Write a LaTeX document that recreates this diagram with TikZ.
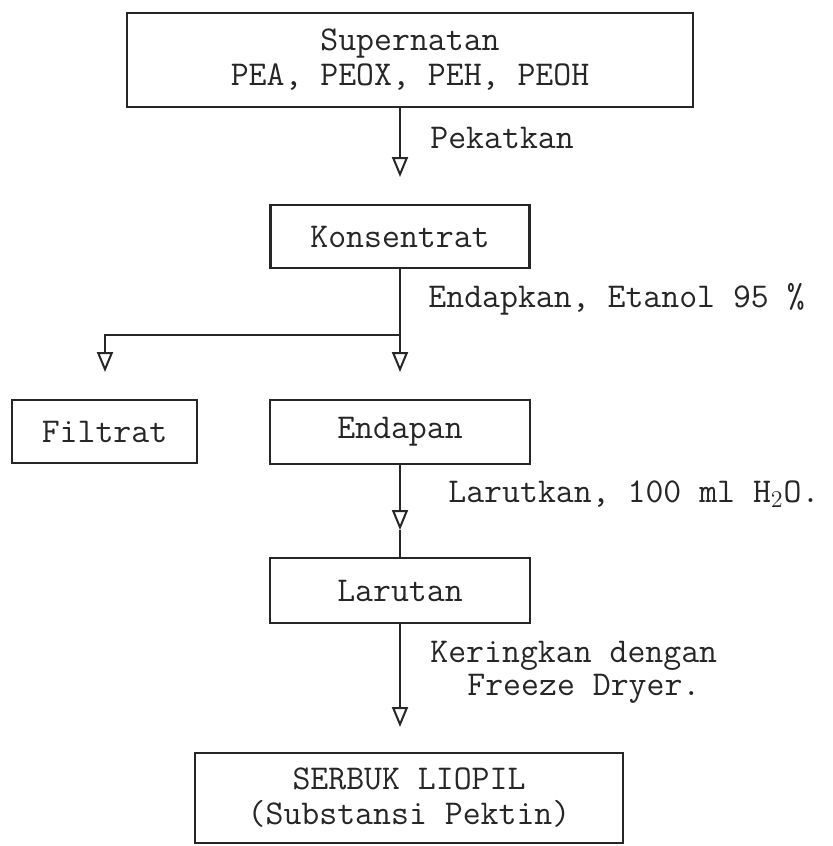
\documentclass[tikz,border=0pt]{standalone}
\usepackage{fontspec}
\usetikzlibrary{arrows.meta}
\colorlet{ink}{black!85}
\begin{document}
\begin{tikzpicture}[x=0.5pt,y=-0.5pt,
  box/.style={draw=ink, text=ink, line width=1.2pt, rectangle, inner sep=0pt, align=center,
    font=\ttfamily\fontsize{17.4}{17.5}\selectfont},
  lbl/.style={anchor=base west, inner sep=0pt, text=ink, font=\ttfamily\fontsize{17.4}{17}\selectfont},
  flow/.style={draw=ink, line width=1pt, -{Triangle[open,length=10pt,width=8pt,line width=1pt]}},
  plain/.style={draw=ink, line width=1pt}
]
\useasboundingbox (0,0) rectangle (832,846);
\fill[white] (0,0) rectangle (832,846);

% boxes
\node[box, minimum width=283pt, minimum height=47pt] (sup) at (410,60) {Supernatan\\PEA, PEOX, PEH, PEOH};
\node[box, minimum width=129.5pt, minimum height=31.5pt] (kon) at (400,236.5) {Konsentrat};
\node[box, minimum width=92.5pt, minimum height=31.5pt] (fil) at (104.5,431.5) {Filtrat};
\node[box, minimum width=130pt, minimum height=32pt] (end) at (400,432) {Endapan};
\node[box, minimum width=130pt, minimum height=32.5pt] (lar) at (400,590.5) {Larutan};
\node[box, minimum width=214pt, minimum height=45pt, font=\ttfamily\fontsize{17.4}{17.5}\selectfont] (ser) at (409,798) {SERBUK LIOPIL\\(Substansi Pektin)};

% arrow tip points
\coordinate (t1) at (400,177);
\coordinate (t2) at (400,372);
\coordinate (br) at (400,335);
\coordinate (t2b) at (105,372);
\coordinate (t3) at (400,530);
\coordinate (t4) at (400,727);

% connectors
\draw[flow] (sup.south -| t1) -- (t1);
\draw[flow] (kon.south) -- (t2);
\draw[flow] (br) -| (t2b);
\draw[flow] (end.south) -- (t3);
\draw[plain] (t3) -- (lar.north);
\draw[flow] (lar.south) -- (t4);

% labels
\node[lbl] (pek) at (430,148) {Pekatkan};
\node[lbl] (eta) at (428,307) {Endapkan, Etanol 95 \%};
\node[lbl] (h2o) at (448,502) {Larutkan, 100 ml H$_2$O.};
\node[lbl] (ker) at (430,662) {Keringkan dengan};
\node[lbl] (frz) at (467,695) {Freeze Dryer.};
\end{tikzpicture}
\end{document}
